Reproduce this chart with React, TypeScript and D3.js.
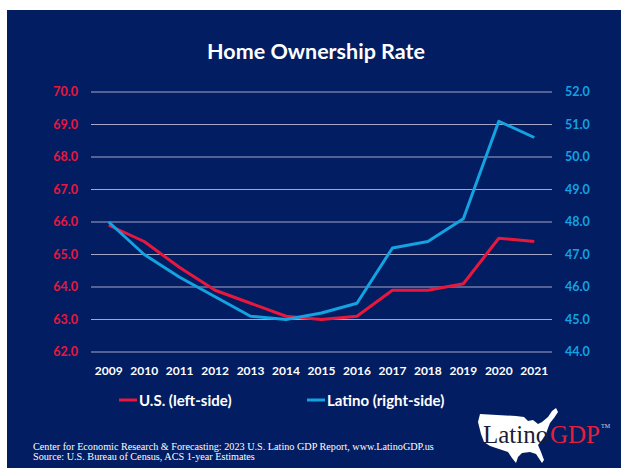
import React from "react";
import * as d3 from "d3";

const years = ["2009","2010","2011","2012","2013","2014","2015","2016","2017","2018","2019","2020","2021"];
const usRate = [65.9, 65.4, 64.6, 63.9, 63.5, 63.1, 63.0, 63.1, 63.9, 63.9, 64.1, 65.5, 65.4];
const latinoRate = [48.0, 47.0, 46.3, 45.7, 45.1, 45.0, 45.2, 45.5, 47.2, 47.4, 48.1, 51.1, 50.6];
const leftTicks = [62, 63, 64, 65, 66, 67, 68, 69, 70];
const rightTicks = [44, 45, 46, 47, 48, 49, 50, 51, 52];
const title = "Home Ownership Rate";
const legendLabels = ["U.S. (left-side)", "Latino (right-side)"];
const footer = [
  "Center for Economic Research & Forecasting: 2023 U.S. Latino GDP Report, www.LatinoGDP.us",
  "Source: U.S. Bureau of Census, ACS 1-year Estimates",
];

const NAVY = "#021D62";
const RED = "#E8183D";
const BLUE = "#14A2E0";
const FONT = "Lato, 'Open Sans', sans-serif";

export default function App() {
  const W = 621, H = 468;
  const x = d3.scalePoint<string>().domain(years).range([91, 552]).padding(0.5);
  const yL = d3.scaleLinear().domain([62, 70]).range([352, 92]);
  const yR = d3.scaleLinear().domain([44, 52]).range([352, 92]);

  const lineL = d3.line<number>().x((_, i) => x(years[i])!).y((d) => yL(d));
  const lineR = d3.line<number>().x((_, i) => x(years[i])!).y((d) => yR(d));

  const usMap =
    "M2,6 L38,8 L46,9 L50,13 L55,12 L60,16 L64,14 L70,9 L74,3 L78,0 L80,4 L76,10 L72,15 L70,20 L68,26 L64,32 L60,37 L63,44 L66,52 L64,55 L58,46 L52,44 L44,45 L40,49 L38,55 L34,50 L30,44 L24,42 L18,40 L12,38 L6,34 L3,26 L0,14 Z";

  return (
    <svg
      width={W}
      height={H}
      style={{ position: "fixed", left: 0, top: 0, display: "block" }}
      fontFamily={FONT}
    >
      <rect x={0} y={0} width={W} height={H} fill="#fff" />
      <rect x={7} y={10} width={W - 7} height={H - 10} fill={NAVY} />
      <text x={316} y={59} textAnchor="middle" fill="#fff" fontSize={21.5} fontWeight="bold">
        {title}
      </text>

      {leftTicks.map((t) => (
        <line key={"g" + t} x1={91} x2={552} y1={yL(t)} y2={yL(t)} stroke="#A4A6C6" strokeWidth={1.2} />
      ))}
      {leftTicks.map((t) => (
        <text key={"l" + t} x={78} y={yL(t)} dy="0.35em" textAnchor="end" fill={RED} fontSize={12.5} fontWeight="bold">
          {t.toFixed(1)}
        </text>
      ))}
      {rightTicks.map((t) => (
        <text key={"r" + t} x={565} y={yR(t)} dy="0.35em" textAnchor="start" fill={BLUE} fontSize={12.5} fontWeight="bold">
          {t.toFixed(1)}
        </text>
      ))}
      {years.map((yr) => (
        <text key={"x" + yr} x={x(yr)} y={375} textAnchor="middle" fill="#fff" fontSize={12} fontWeight="bold">
          {yr}
        </text>
      ))}

      <path d={lineL(usRate)!} fill="none" stroke={RED} strokeWidth={3} strokeLinejoin="round" />
      <path d={lineR(latinoRate)!} fill="none" stroke={BLUE} strokeWidth={3} strokeLinejoin="round" />

      <line x1={119} x2={137} y1={400} y2={400} stroke={RED} strokeWidth={3} />
      <text x={139} y={405.5} fill="#fff" fontSize={15} fontWeight="bold">{legendLabels[0]}</text>
      <line x1={307} x2={325} y1={400} y2={400} stroke={BLUE} strokeWidth={3} />
      <text x={327} y={405.5} fill="#fff" fontSize={15} fontWeight="bold">{legendLabels[1]}</text>

      {footer.map((f, i) => (
        <text key={"f" + i} x={33} y={450 + i * 10} fill="#fff" fontSize={10.2} fontFamily="'Liberation Serif', 'DejaVu Serif', serif">
          {f}
        </text>
      ))}

      <g transform="translate(478,408)">
        <path d={usMap} fill="#fff" />
      </g>
      <text x={483} y={443} fontSize={25} fontFamily="'Liberation Serif', serif" fill="#1B1B3A">Latino</text>
      <text x={550} y={443} fontSize={25} fontFamily="'Liberation Serif', serif" fill="#E2203C">GDP</text>
      <text x={601} y={428} fontSize={6} fontFamily="'Liberation Serif', serif" fill="#ddd">TM</text>
    </svg>
  );
}
